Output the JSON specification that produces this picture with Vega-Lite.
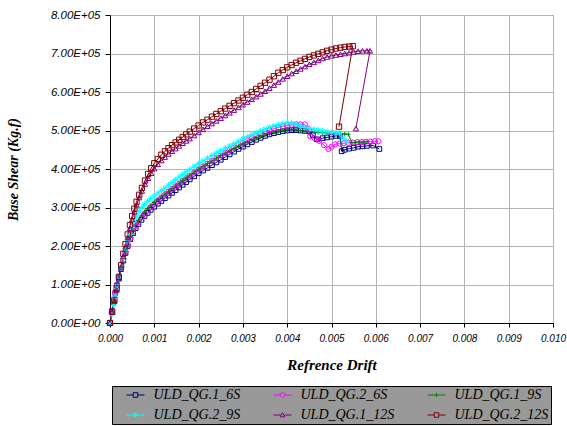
{
"$schema": "https://vega.github.io/schema/vega-lite/v6.json",
"width": 443, "height": 308,
"autosize": {"type": "none"},
"padding": {"left": 110, "top": 15, "right": 14, "bottom": 103},
"background": "white",
"config": {"view": {"stroke": "#808080", "strokeWidth": 1}},
"data": {"values": [
{"s":"ULD_QG.1_6S","d":0,"v":0},{"s":"ULD_QG.1_6S","d":0.00004,"v":28000},{"s":"ULD_QG.1_6S","d":0.00008,"v":55000},{"s":"ULD_QG.1_6S","d":0.00012,"v":78000},{"s":"ULD_QG.1_6S","d":0.00016,"v":98000},{"s":"ULD_QG.1_6S","d":0.0002,"v":116000},{"s":"ULD_QG.1_6S","d":0.00025,"v":140000},{"s":"ULD_QG.1_6S","d":0.0003,"v":162000},{"s":"ULD_QG.1_6S","d":0.00035,"v":182000},{"s":"ULD_QG.1_6S","d":0.0004,"v":200000},{"s":"ULD_QG.1_6S","d":0.00046,"v":218000},{"s":"ULD_QG.1_6S","d":0.00052,"v":233000},{"s":"ULD_QG.1_6S","d":0.00058,"v":246000},{"s":"ULD_QG.1_6S","d":0.00064,"v":257000},{"s":"ULD_QG.1_6S","d":0.00071,"v":268000},{"s":"ULD_QG.1_6S","d":0.00078,"v":278000},{"s":"ULD_QG.1_6S","d":0.00085,"v":286000},{"s":"ULD_QG.1_6S","d":0.00092,"v":294000},{"s":"ULD_QG.1_6S","d":0.001,"v":302000},{"s":"ULD_QG.1_6S","d":0.00108,"v":310000},{"s":"ULD_QG.1_6S","d":0.00116,"v":317000},{"s":"ULD_QG.1_6S","d":0.00124,"v":324000},{"s":"ULD_QG.1_6S","d":0.00132,"v":331000},{"s":"ULD_QG.1_6S","d":0.0014,"v":338000},{"s":"ULD_QG.1_6S","d":0.00148,"v":345000},{"s":"ULD_QG.1_6S","d":0.00156,"v":352000},{"s":"ULD_QG.1_6S","d":0.00164,"v":359000},{"s":"ULD_QG.1_6S","d":0.00172,"v":366000},{"s":"ULD_QG.1_6S","d":0.0018,"v":373000},{"s":"ULD_QG.1_6S","d":0.0019,"v":381000},{"s":"ULD_QG.1_6S","d":0.002,"v":389000},{"s":"ULD_QG.1_6S","d":0.0021,"v":396000},{"s":"ULD_QG.1_6S","d":0.0022,"v":403000},{"s":"ULD_QG.1_6S","d":0.0023,"v":410000},{"s":"ULD_QG.1_6S","d":0.0024,"v":417000},{"s":"ULD_QG.1_6S","d":0.0025,"v":424000},{"s":"ULD_QG.1_6S","d":0.0026,"v":431000},{"s":"ULD_QG.1_6S","d":0.0027,"v":438000},{"s":"ULD_QG.1_6S","d":0.0028,"v":445000},{"s":"ULD_QG.1_6S","d":0.0029,"v":452000},{"s":"ULD_QG.1_6S","d":0.003,"v":458000},{"s":"ULD_QG.1_6S","d":0.0031,"v":464000},{"s":"ULD_QG.1_6S","d":0.0032,"v":470000},{"s":"ULD_QG.1_6S","d":0.0033,"v":476000},{"s":"ULD_QG.1_6S","d":0.0034,"v":481000},{"s":"ULD_QG.1_6S","d":0.0035,"v":486000},{"s":"ULD_QG.1_6S","d":0.0036,"v":490000},{"s":"ULD_QG.1_6S","d":0.0037,"v":493000},{"s":"ULD_QG.1_6S","d":0.0038,"v":496000},{"s":"ULD_QG.1_6S","d":0.0039,"v":498000},{"s":"ULD_QG.1_6S","d":0.004,"v":500000},{"s":"ULD_QG.1_6S","d":0.0041,"v":501000},{"s":"ULD_QG.1_6S","d":0.0042,"v":501000},{"s":"ULD_QG.1_6S","d":0.0043,"v":500000},{"s":"ULD_QG.1_6S","d":0.0044,"v":499000},{"s":"ULD_QG.1_6S","d":0.0045,"v":498000},{"s":"ULD_QG.1_6S","d":0.00458,"v":488000},{"s":"ULD_QG.1_6S","d":0.00467,"v":477000},{"s":"ULD_QG.1_6S","d":0.0048,"v":480000},{"s":"ULD_QG.1_6S","d":0.0049,"v":482000},{"s":"ULD_QG.1_6S","d":0.005,"v":484000},{"s":"ULD_QG.1_6S","d":0.0051,"v":486000},{"s":"ULD_QG.1_6S","d":0.00519,"v":486000},{"s":"ULD_QG.1_6S","d":0.00523,"v":446000},{"s":"ULD_QG.1_6S","d":0.0053,"v":450000},{"s":"ULD_QG.1_6S","d":0.0054,"v":453000},{"s":"ULD_QG.1_6S","d":0.0055,"v":455000},{"s":"ULD_QG.1_6S","d":0.0056,"v":458000},{"s":"ULD_QG.1_6S","d":0.0057,"v":459000},{"s":"ULD_QG.1_6S","d":0.0058,"v":460000},{"s":"ULD_QG.1_6S","d":0.00594,"v":461000},{"s":"ULD_QG.1_6S","d":0.00608,"v":452000},
{"s":"ULD_QG.2_6S","d":0,"v":0},{"s":"ULD_QG.2_6S","d":0.00004,"v":27000},{"s":"ULD_QG.2_6S","d":0.00008,"v":56000},{"s":"ULD_QG.2_6S","d":0.00012,"v":80000},{"s":"ULD_QG.2_6S","d":0.00016,"v":100000},{"s":"ULD_QG.2_6S","d":0.0002,"v":119000},{"s":"ULD_QG.2_6S","d":0.00025,"v":143000},{"s":"ULD_QG.2_6S","d":0.0003,"v":165000},{"s":"ULD_QG.2_6S","d":0.00035,"v":185000},{"s":"ULD_QG.2_6S","d":0.0004,"v":203000},{"s":"ULD_QG.2_6S","d":0.00046,"v":221000},{"s":"ULD_QG.2_6S","d":0.00052,"v":237000},{"s":"ULD_QG.2_6S","d":0.00058,"v":250000},{"s":"ULD_QG.2_6S","d":0.00064,"v":262000},{"s":"ULD_QG.2_6S","d":0.00071,"v":274000},{"s":"ULD_QG.2_6S","d":0.00078,"v":284000},{"s":"ULD_QG.2_6S","d":0.00085,"v":293000},{"s":"ULD_QG.2_6S","d":0.00092,"v":301000},{"s":"ULD_QG.2_6S","d":0.001,"v":310000},{"s":"ULD_QG.2_6S","d":0.00108,"v":318000},{"s":"ULD_QG.2_6S","d":0.00116,"v":326000},{"s":"ULD_QG.2_6S","d":0.00124,"v":334000},{"s":"ULD_QG.2_6S","d":0.00132,"v":341000},{"s":"ULD_QG.2_6S","d":0.0014,"v":348000},{"s":"ULD_QG.2_6S","d":0.00148,"v":355000},{"s":"ULD_QG.2_6S","d":0.00156,"v":362000},{"s":"ULD_QG.2_6S","d":0.00164,"v":369000},{"s":"ULD_QG.2_6S","d":0.00172,"v":376000},{"s":"ULD_QG.2_6S","d":0.0018,"v":383000},{"s":"ULD_QG.2_6S","d":0.0019,"v":391000},{"s":"ULD_QG.2_6S","d":0.002,"v":399000},{"s":"ULD_QG.2_6S","d":0.0021,"v":407000},{"s":"ULD_QG.2_6S","d":0.0022,"v":414000},{"s":"ULD_QG.2_6S","d":0.0023,"v":421000},{"s":"ULD_QG.2_6S","d":0.0024,"v":428000},{"s":"ULD_QG.2_6S","d":0.0025,"v":435000},{"s":"ULD_QG.2_6S","d":0.0026,"v":442000},{"s":"ULD_QG.2_6S","d":0.0027,"v":449000},{"s":"ULD_QG.2_6S","d":0.0028,"v":456000},{"s":"ULD_QG.2_6S","d":0.0029,"v":462000},{"s":"ULD_QG.2_6S","d":0.003,"v":468000},{"s":"ULD_QG.2_6S","d":0.0031,"v":474000},{"s":"ULD_QG.2_6S","d":0.0032,"v":480000},{"s":"ULD_QG.2_6S","d":0.0033,"v":486000},{"s":"ULD_QG.2_6S","d":0.0034,"v":492000},{"s":"ULD_QG.2_6S","d":0.0035,"v":497000},{"s":"ULD_QG.2_6S","d":0.0036,"v":501000},{"s":"ULD_QG.2_6S","d":0.0037,"v":505000},{"s":"ULD_QG.2_6S","d":0.0038,"v":508000},{"s":"ULD_QG.2_6S","d":0.0039,"v":511000},{"s":"ULD_QG.2_6S","d":0.004,"v":513000},{"s":"ULD_QG.2_6S","d":0.0041,"v":515000},{"s":"ULD_QG.2_6S","d":0.0042,"v":516000},{"s":"ULD_QG.2_6S","d":0.0043,"v":516000},{"s":"ULD_QG.2_6S","d":0.0044,"v":516000},{"s":"ULD_QG.2_6S","d":0.00447,"v":505000},{"s":"ULD_QG.2_6S","d":0.00452,"v":485000},{"s":"ULD_QG.2_6S","d":0.00462,"v":480000},{"s":"ULD_QG.2_6S","d":0.00472,"v":473000},{"s":"ULD_QG.2_6S","d":0.00483,"v":462000},{"s":"ULD_QG.2_6S","d":0.00493,"v":452000},{"s":"ULD_QG.2_6S","d":0.005,"v":458000},{"s":"ULD_QG.2_6S","d":0.00508,"v":464000},{"s":"ULD_QG.2_6S","d":0.00518,"v":466000},{"s":"ULD_QG.2_6S","d":0.00528,"v":467000},{"s":"ULD_QG.2_6S","d":0.00538,"v":468000},{"s":"ULD_QG.2_6S","d":0.00548,"v":469000},{"s":"ULD_QG.2_6S","d":0.00558,"v":470000},{"s":"ULD_QG.2_6S","d":0.00568,"v":470000},{"s":"ULD_QG.2_6S","d":0.00578,"v":471000},{"s":"ULD_QG.2_6S","d":0.00588,"v":471000},{"s":"ULD_QG.2_6S","d":0.00598,"v":472000},{"s":"ULD_QG.2_6S","d":0.00606,"v":472000},
{"s":"ULD_QG.1_9S","d":0,"v":0},{"s":"ULD_QG.1_9S","d":0.00004,"v":28000},{"s":"ULD_QG.1_9S","d":0.00008,"v":57000},{"s":"ULD_QG.1_9S","d":0.00012,"v":82000},{"s":"ULD_QG.1_9S","d":0.00016,"v":103000},{"s":"ULD_QG.1_9S","d":0.0002,"v":122000},{"s":"ULD_QG.1_9S","d":0.00025,"v":146000},{"s":"ULD_QG.1_9S","d":0.0003,"v":168000},{"s":"ULD_QG.1_9S","d":0.00035,"v":188000},{"s":"ULD_QG.1_9S","d":0.0004,"v":207000},{"s":"ULD_QG.1_9S","d":0.00046,"v":225000},{"s":"ULD_QG.1_9S","d":0.00052,"v":241000},{"s":"ULD_QG.1_9S","d":0.00058,"v":254000},{"s":"ULD_QG.1_9S","d":0.00064,"v":266000},{"s":"ULD_QG.1_9S","d":0.00071,"v":278000},{"s":"ULD_QG.1_9S","d":0.00078,"v":288000},{"s":"ULD_QG.1_9S","d":0.00085,"v":297000},{"s":"ULD_QG.1_9S","d":0.00092,"v":305000},{"s":"ULD_QG.1_9S","d":0.001,"v":313000},{"s":"ULD_QG.1_9S","d":0.00108,"v":321000},{"s":"ULD_QG.1_9S","d":0.00116,"v":328000},{"s":"ULD_QG.1_9S","d":0.00124,"v":335000},{"s":"ULD_QG.1_9S","d":0.00132,"v":342000},{"s":"ULD_QG.1_9S","d":0.0014,"v":349000},{"s":"ULD_QG.1_9S","d":0.00148,"v":356000},{"s":"ULD_QG.1_9S","d":0.00156,"v":363000},{"s":"ULD_QG.1_9S","d":0.00164,"v":370000},{"s":"ULD_QG.1_9S","d":0.00172,"v":377000},{"s":"ULD_QG.1_9S","d":0.0018,"v":384000},{"s":"ULD_QG.1_9S","d":0.0019,"v":392000},{"s":"ULD_QG.1_9S","d":0.002,"v":400000},{"s":"ULD_QG.1_9S","d":0.0021,"v":407000},{"s":"ULD_QG.1_9S","d":0.0022,"v":414000},{"s":"ULD_QG.1_9S","d":0.0023,"v":421000},{"s":"ULD_QG.1_9S","d":0.0024,"v":428000},{"s":"ULD_QG.1_9S","d":0.0025,"v":435000},{"s":"ULD_QG.1_9S","d":0.0026,"v":441000},{"s":"ULD_QG.1_9S","d":0.0027,"v":447000},{"s":"ULD_QG.1_9S","d":0.0028,"v":453000},{"s":"ULD_QG.1_9S","d":0.0029,"v":459000},{"s":"ULD_QG.1_9S","d":0.003,"v":465000},{"s":"ULD_QG.1_9S","d":0.0031,"v":470000},{"s":"ULD_QG.1_9S","d":0.0032,"v":475000},{"s":"ULD_QG.1_9S","d":0.0033,"v":480000},{"s":"ULD_QG.1_9S","d":0.0034,"v":484000},{"s":"ULD_QG.1_9S","d":0.0035,"v":488000},{"s":"ULD_QG.1_9S","d":0.0036,"v":492000},{"s":"ULD_QG.1_9S","d":0.0037,"v":495000},{"s":"ULD_QG.1_9S","d":0.0038,"v":498000},{"s":"ULD_QG.1_9S","d":0.0039,"v":500000},{"s":"ULD_QG.1_9S","d":0.004,"v":502000},{"s":"ULD_QG.1_9S","d":0.0041,"v":503000},{"s":"ULD_QG.1_9S","d":0.0042,"v":502000},{"s":"ULD_QG.1_9S","d":0.0043,"v":500000},{"s":"ULD_QG.1_9S","d":0.0044,"v":498000},{"s":"ULD_QG.1_9S","d":0.0045,"v":497000},{"s":"ULD_QG.1_9S","d":0.0046,"v":496000},{"s":"ULD_QG.1_9S","d":0.0047,"v":495000},{"s":"ULD_QG.1_9S","d":0.0048,"v":494000},{"s":"ULD_QG.1_9S","d":0.0049,"v":494000},{"s":"ULD_QG.1_9S","d":0.005,"v":493000},{"s":"ULD_QG.1_9S","d":0.0051,"v":492000},{"s":"ULD_QG.1_9S","d":0.0052,"v":492000},{"s":"ULD_QG.1_9S","d":0.0053,"v":491000},{"s":"ULD_QG.1_9S","d":0.00538,"v":490000},{"s":"ULD_QG.1_9S","d":0.00546,"v":468000},{"s":"ULD_QG.1_9S","d":0.00554,"v":469000},{"s":"ULD_QG.1_9S","d":0.00562,"v":470000},{"s":"ULD_QG.1_9S","d":0.00572,"v":470000},{"s":"ULD_QG.1_9S","d":0.0058,"v":471000},
{"s":"ULD_QG.2_9S","d":0,"v":0},{"s":"ULD_QG.2_9S","d":0.00004,"v":22000},{"s":"ULD_QG.2_9S","d":0.00008,"v":46000},{"s":"ULD_QG.2_9S","d":0.00012,"v":70000},{"s":"ULD_QG.2_9S","d":0.00016,"v":93000},{"s":"ULD_QG.2_9S","d":0.0002,"v":115000},{"s":"ULD_QG.2_9S","d":0.00025,"v":142000},{"s":"ULD_QG.2_9S","d":0.0003,"v":167000},{"s":"ULD_QG.2_9S","d":0.00035,"v":190000},{"s":"ULD_QG.2_9S","d":0.0004,"v":211000},{"s":"ULD_QG.2_9S","d":0.00045,"v":230000},{"s":"ULD_QG.2_9S","d":0.0005,"v":248000},{"s":"ULD_QG.2_9S","d":0.00055,"v":264000},{"s":"ULD_QG.2_9S","d":0.0006,"v":278000},{"s":"ULD_QG.2_9S","d":0.00066,"v":290000},{"s":"ULD_QG.2_9S","d":0.00072,"v":300000},{"s":"ULD_QG.2_9S","d":0.00078,"v":308000},{"s":"ULD_QG.2_9S","d":0.00085,"v":316000},{"s":"ULD_QG.2_9S","d":0.00092,"v":323000},{"s":"ULD_QG.2_9S","d":0.001,"v":330000},{"s":"ULD_QG.2_9S","d":0.00108,"v":337000},{"s":"ULD_QG.2_9S","d":0.00116,"v":344000},{"s":"ULD_QG.2_9S","d":0.00124,"v":351000},{"s":"ULD_QG.2_9S","d":0.00132,"v":358000},{"s":"ULD_QG.2_9S","d":0.0014,"v":365000},{"s":"ULD_QG.2_9S","d":0.00148,"v":372000},{"s":"ULD_QG.2_9S","d":0.00156,"v":379000},{"s":"ULD_QG.2_9S","d":0.00164,"v":386000},{"s":"ULD_QG.2_9S","d":0.00172,"v":393000},{"s":"ULD_QG.2_9S","d":0.0018,"v":399000},{"s":"ULD_QG.2_9S","d":0.0019,"v":407000},{"s":"ULD_QG.2_9S","d":0.002,"v":414000},{"s":"ULD_QG.2_9S","d":0.0021,"v":421000},{"s":"ULD_QG.2_9S","d":0.0022,"v":428000},{"s":"ULD_QG.2_9S","d":0.0023,"v":435000},{"s":"ULD_QG.2_9S","d":0.0024,"v":442000},{"s":"ULD_QG.2_9S","d":0.0025,"v":448000},{"s":"ULD_QG.2_9S","d":0.0026,"v":454000},{"s":"ULD_QG.2_9S","d":0.0027,"v":460000},{"s":"ULD_QG.2_9S","d":0.0028,"v":466000},{"s":"ULD_QG.2_9S","d":0.0029,"v":472000},{"s":"ULD_QG.2_9S","d":0.003,"v":478000},{"s":"ULD_QG.2_9S","d":0.0031,"v":484000},{"s":"ULD_QG.2_9S","d":0.0032,"v":489000},{"s":"ULD_QG.2_9S","d":0.0033,"v":494000},{"s":"ULD_QG.2_9S","d":0.0034,"v":499000},{"s":"ULD_QG.2_9S","d":0.0035,"v":504000},{"s":"ULD_QG.2_9S","d":0.0036,"v":508000},{"s":"ULD_QG.2_9S","d":0.0037,"v":512000},{"s":"ULD_QG.2_9S","d":0.0038,"v":515000},{"s":"ULD_QG.2_9S","d":0.0039,"v":518000},{"s":"ULD_QG.2_9S","d":0.004,"v":520000},{"s":"ULD_QG.2_9S","d":0.0041,"v":519000},{"s":"ULD_QG.2_9S","d":0.0042,"v":516000},{"s":"ULD_QG.2_9S","d":0.0043,"v":512000},{"s":"ULD_QG.2_9S","d":0.0044,"v":508000},{"s":"ULD_QG.2_9S","d":0.0045,"v":505000},{"s":"ULD_QG.2_9S","d":0.0046,"v":503000},{"s":"ULD_QG.2_9S","d":0.0047,"v":501000},{"s":"ULD_QG.2_9S","d":0.0048,"v":499000},{"s":"ULD_QG.2_9S","d":0.0049,"v":497000},{"s":"ULD_QG.2_9S","d":0.005,"v":495000},{"s":"ULD_QG.2_9S","d":0.0051,"v":494000},{"s":"ULD_QG.2_9S","d":0.00518,"v":493000},{"s":"ULD_QG.2_9S","d":0.00526,"v":480000},{"s":"ULD_QG.2_9S","d":0.00534,"v":472000},
{"s":"ULD_QG.1_12S","d":0,"v":0},{"s":"ULD_QG.1_12S","d":0.00005,"v":28000},{"s":"ULD_QG.1_12S","d":0.0001,"v":57000},{"s":"ULD_QG.1_12S","d":0.00015,"v":86000},{"s":"ULD_QG.1_12S","d":0.0002,"v":115000},{"s":"ULD_QG.1_12S","d":0.00025,"v":144000},{"s":"ULD_QG.1_12S","d":0.0003,"v":173000},{"s":"ULD_QG.1_12S","d":0.00035,"v":198000},{"s":"ULD_QG.1_12S","d":0.0004,"v":222000},{"s":"ULD_QG.1_12S","d":0.00045,"v":246000},{"s":"ULD_QG.1_12S","d":0.0005,"v":269000},{"s":"ULD_QG.1_12S","d":0.00055,"v":289000},{"s":"ULD_QG.1_12S","d":0.0006,"v":307000},{"s":"ULD_QG.1_12S","d":0.00066,"v":326000},{"s":"ULD_QG.1_12S","d":0.00072,"v":343000},{"s":"ULD_QG.1_12S","d":0.00079,"v":361000},{"s":"ULD_QG.1_12S","d":0.00086,"v":376000},{"s":"ULD_QG.1_12S","d":0.00093,"v":389000},{"s":"ULD_QG.1_12S","d":0.001,"v":401000},{"s":"ULD_QG.1_12S","d":0.00108,"v":412000},{"s":"ULD_QG.1_12S","d":0.00116,"v":422000},{"s":"ULD_QG.1_12S","d":0.00124,"v":431000},{"s":"ULD_QG.1_12S","d":0.00132,"v":439000},{"s":"ULD_QG.1_12S","d":0.0014,"v":446000},{"s":"ULD_QG.1_12S","d":0.00148,"v":453000},{"s":"ULD_QG.1_12S","d":0.00156,"v":460000},{"s":"ULD_QG.1_12S","d":0.00164,"v":467000},{"s":"ULD_QG.1_12S","d":0.00172,"v":473000},{"s":"ULD_QG.1_12S","d":0.0018,"v":479000},{"s":"ULD_QG.1_12S","d":0.0019,"v":487000},{"s":"ULD_QG.1_12S","d":0.002,"v":495000},{"s":"ULD_QG.1_12S","d":0.0021,"v":503000},{"s":"ULD_QG.1_12S","d":0.0022,"v":511000},{"s":"ULD_QG.1_12S","d":0.0023,"v":518000},{"s":"ULD_QG.1_12S","d":0.0024,"v":525000},{"s":"ULD_QG.1_12S","d":0.0025,"v":532000},{"s":"ULD_QG.1_12S","d":0.0026,"v":539000},{"s":"ULD_QG.1_12S","d":0.0027,"v":546000},{"s":"ULD_QG.1_12S","d":0.0028,"v":553000},{"s":"ULD_QG.1_12S","d":0.0029,"v":560000},{"s":"ULD_QG.1_12S","d":0.003,"v":567000},{"s":"ULD_QG.1_12S","d":0.0031,"v":574000},{"s":"ULD_QG.1_12S","d":0.0032,"v":581000},{"s":"ULD_QG.1_12S","d":0.0033,"v":588000},{"s":"ULD_QG.1_12S","d":0.0034,"v":595000},{"s":"ULD_QG.1_12S","d":0.0035,"v":602000},{"s":"ULD_QG.1_12S","d":0.0036,"v":610000},{"s":"ULD_QG.1_12S","d":0.0037,"v":618000},{"s":"ULD_QG.1_12S","d":0.0038,"v":626000},{"s":"ULD_QG.1_12S","d":0.0039,"v":634000},{"s":"ULD_QG.1_12S","d":0.004,"v":641000},{"s":"ULD_QG.1_12S","d":0.0041,"v":648000},{"s":"ULD_QG.1_12S","d":0.0042,"v":654000},{"s":"ULD_QG.1_12S","d":0.0043,"v":660000},{"s":"ULD_QG.1_12S","d":0.0044,"v":666000},{"s":"ULD_QG.1_12S","d":0.0045,"v":672000},{"s":"ULD_QG.1_12S","d":0.0046,"v":677000},{"s":"ULD_QG.1_12S","d":0.0047,"v":682000},{"s":"ULD_QG.1_12S","d":0.0048,"v":687000},{"s":"ULD_QG.1_12S","d":0.0049,"v":691000},{"s":"ULD_QG.1_12S","d":0.005,"v":694000},{"s":"ULD_QG.1_12S","d":0.0051,"v":696000},{"s":"ULD_QG.1_12S","d":0.0052,"v":698000},{"s":"ULD_QG.1_12S","d":0.0053,"v":700000},{"s":"ULD_QG.1_12S","d":0.0054,"v":702000},{"s":"ULD_QG.1_12S","d":0.0055,"v":704000},{"s":"ULD_QG.1_12S","d":0.0056,"v":706000},{"s":"ULD_QG.1_12S","d":0.0057,"v":707000},{"s":"ULD_QG.1_12S","d":0.0058,"v":707000},{"s":"ULD_QG.1_12S","d":0.00587,"v":707000},{"s":"ULD_QG.1_12S","d":0.00555,"v":505000},
{"s":"ULD_QG.2_12S","d":0,"v":0},{"s":"ULD_QG.2_12S","d":0.00005,"v":30000},{"s":"ULD_QG.2_12S","d":0.0001,"v":60000},{"s":"ULD_QG.2_12S","d":0.00015,"v":90000},{"s":"ULD_QG.2_12S","d":0.0002,"v":120000},{"s":"ULD_QG.2_12S","d":0.00025,"v":150000},{"s":"ULD_QG.2_12S","d":0.0003,"v":180000},{"s":"ULD_QG.2_12S","d":0.00035,"v":205000},{"s":"ULD_QG.2_12S","d":0.0004,"v":230000},{"s":"ULD_QG.2_12S","d":0.00045,"v":254000},{"s":"ULD_QG.2_12S","d":0.0005,"v":278000},{"s":"ULD_QG.2_12S","d":0.00055,"v":297000},{"s":"ULD_QG.2_12S","d":0.0006,"v":315000},{"s":"ULD_QG.2_12S","d":0.00066,"v":333000},{"s":"ULD_QG.2_12S","d":0.00072,"v":351000},{"s":"ULD_QG.2_12S","d":0.00079,"v":370000},{"s":"ULD_QG.2_12S","d":0.00086,"v":387000},{"s":"ULD_QG.2_12S","d":0.00093,"v":402000},{"s":"ULD_QG.2_12S","d":0.001,"v":415000},{"s":"ULD_QG.2_12S","d":0.00108,"v":426000},{"s":"ULD_QG.2_12S","d":0.00116,"v":437000},{"s":"ULD_QG.2_12S","d":0.00124,"v":446000},{"s":"ULD_QG.2_12S","d":0.00132,"v":454000},{"s":"ULD_QG.2_12S","d":0.0014,"v":462000},{"s":"ULD_QG.2_12S","d":0.00148,"v":469000},{"s":"ULD_QG.2_12S","d":0.00156,"v":476000},{"s":"ULD_QG.2_12S","d":0.00164,"v":483000},{"s":"ULD_QG.2_12S","d":0.00172,"v":490000},{"s":"ULD_QG.2_12S","d":0.0018,"v":497000},{"s":"ULD_QG.2_12S","d":0.0019,"v":505000},{"s":"ULD_QG.2_12S","d":0.002,"v":513000},{"s":"ULD_QG.2_12S","d":0.0021,"v":521000},{"s":"ULD_QG.2_12S","d":0.0022,"v":528000},{"s":"ULD_QG.2_12S","d":0.0023,"v":536000},{"s":"ULD_QG.2_12S","d":0.0024,"v":543000},{"s":"ULD_QG.2_12S","d":0.0025,"v":550000},{"s":"ULD_QG.2_12S","d":0.0026,"v":557000},{"s":"ULD_QG.2_12S","d":0.0027,"v":564000},{"s":"ULD_QG.2_12S","d":0.0028,"v":571000},{"s":"ULD_QG.2_12S","d":0.0029,"v":578000},{"s":"ULD_QG.2_12S","d":0.003,"v":585000},{"s":"ULD_QG.2_12S","d":0.0031,"v":593000},{"s":"ULD_QG.2_12S","d":0.0032,"v":600000},{"s":"ULD_QG.2_12S","d":0.0033,"v":608000},{"s":"ULD_QG.2_12S","d":0.0034,"v":616000},{"s":"ULD_QG.2_12S","d":0.0035,"v":624000},{"s":"ULD_QG.2_12S","d":0.0036,"v":632000},{"s":"ULD_QG.2_12S","d":0.0037,"v":641000},{"s":"ULD_QG.2_12S","d":0.0038,"v":650000},{"s":"ULD_QG.2_12S","d":0.0039,"v":657000},{"s":"ULD_QG.2_12S","d":0.004,"v":664000},{"s":"ULD_QG.2_12S","d":0.0041,"v":670000},{"s":"ULD_QG.2_12S","d":0.0042,"v":676000},{"s":"ULD_QG.2_12S","d":0.0043,"v":681000},{"s":"ULD_QG.2_12S","d":0.0044,"v":686000},{"s":"ULD_QG.2_12S","d":0.0045,"v":691000},{"s":"ULD_QG.2_12S","d":0.0046,"v":695000},{"s":"ULD_QG.2_12S","d":0.0047,"v":699000},{"s":"ULD_QG.2_12S","d":0.0048,"v":703000},{"s":"ULD_QG.2_12S","d":0.0049,"v":707000},{"s":"ULD_QG.2_12S","d":0.005,"v":710000},{"s":"ULD_QG.2_12S","d":0.0051,"v":713000},{"s":"ULD_QG.2_12S","d":0.0052,"v":715000},{"s":"ULD_QG.2_12S","d":0.0053,"v":717000},{"s":"ULD_QG.2_12S","d":0.0054,"v":718000},{"s":"ULD_QG.2_12S","d":0.00548,"v":719000},{"s":"ULD_QG.2_12S","d":0.00517,"v":510000}
]},
"encoding": {
  "x": {"field": "d", "type": "quantitative", "scale": {"domain": [0, 0.01], "nice": false, "zero": false},
    "axis": {"title": "Refrence Drift", "values": [0,0.001,0.002,0.003,0.004,0.005,0.006,0.007,0.008,0.009,0.01], "format": ".3f",
      "labelFont": "Liberation Sans", "labelFontStyle": "italic", "labelFontSize": 10, "labelColor": "black", "labelPadding": 6, "labelFlush": false, "labelOverlap": false,
      "tickColor": "black", "tickSize": 4, "domainColor": "black", "domainWidth": 1, "gridColor": "#b4b4b4", "gridWidth": 1,
      "titleFont": "Liberation Serif", "titleFontStyle": "italic", "titleFontWeight": "bold", "titleFontSize": 15, "titleColor": "black", "titlePadding": 14}},
  "y": {"field": "v", "type": "quantitative", "scale": {"domain": [0, 800000], "nice": false},
    "axis": {"title": "Base Shear (Kg.f)", "values": [0,100000,200000,300000,400000,500000,600000,700000,800000],
      "labelExpr": "datum.value == 0 ? '0.00E+00' : format(datum.value / 100000, '.2f') + 'E+05'",
      "labelFont": "Liberation Sans", "labelFontStyle": "italic", "labelFontSize": 11.5, "labelColor": "black", "labelPadding": 5, "labelFlush": false, "labelOverlap": false,
      "tickColor": "black", "tickSize": 5, "domainColor": "black", "domainWidth": 1, "gridColor": "#b4b4b4", "gridWidth": 1,
      "titleFont": "Liberation Serif", "titleFontStyle": "italic", "titleFontWeight": "bold", "titleFontSize": 14, "titleColor": "black", "titlePadding": 30}}
},
"layer": [
  {"mark": {"type": "line", "strokeWidth": 1},
   "encoding": {
     "stroke": {"field": "s", "type": "nominal", "legend": null,
       "scale": {"range": ["#800080","#000080","#008000","#800000","#ff00ff","#00ffff"]}},
     "order": {"value": null}}},
  {"transform": [{"filter": {"field": "s", "equal": "ULD_QG.1_6S"}}],
   "mark": {"type": "point", "shape": "square", "filled": false, "color": "#000080", "strokeWidth": 1, "size": 22, "opacity": 1}},
  {"transform": [{"filter": {"field": "s", "equal": "ULD_QG.2_6S"}}],
   "mark": {"type": "point", "shape": "circle", "filled": false, "color": "#ff00ff", "strokeWidth": 1, "size": 26, "opacity": 1}},
  {"transform": [{"filter": {"field": "s", "equal": "ULD_QG.1_9S"}}],
   "mark": {"type": "point", "shape": "M-1,0H1M0,-1V1", "filled": false, "color": "#008000", "strokeWidth": 1, "size": 20, "opacity": 1}},
  {"transform": [{"filter": {"field": "s", "equal": "ULD_QG.2_9S"}}],
   "mark": {"type": "point", "shape": "M-1,0H1M0,-1V1M-0.7,-0.7L0.7,0.7M-0.7,0.7L0.7,-0.7", "filled": false, "color": "#00ffff", "strokeWidth": 1, "size": 36, "opacity": 1}},
  {"transform": [{"filter": {"field": "s", "equal": "ULD_QG.1_12S"}}],
   "mark": {"type": "point", "shape": "triangle-up", "filled": false, "color": "#800080", "strokeWidth": 1, "size": 28, "opacity": 1}},
  {"transform": [{"filter": {"field": "s", "equal": "ULD_QG.2_12S"}}],
   "mark": {"type": "point", "shape": "square", "filled": false, "color": "#800000", "strokeWidth": 1, "size": 28, "opacity": 1}},
  {"transform": [{"filter": {"field": "d", "lt": 0}}],
   "mark": {"type": "point", "filled": false, "strokeWidth": 1},
   "encoding": {
     "color": {"field": "s", "type": "nominal",
       "scale": {"domain": ["ULD_QG.1_6S","ULD_QG.2_6S","ULD_QG.1_9S","ULD_QG.2_9S","ULD_QG.1_12S","ULD_QG.2_12S"],
                 "range": ["#000080","#ff00ff","#008000","#00ffff","#800080","#800000"]},
       "legend": {"title": null, "orient": "none", "legendX": 2, "legendY": 371, "direction": "horizontal", "columns": 3,
         "fillColor": "#999999", "strokeColor": "black", "padding": 2, "columnPadding": 20, "rowPadding": 6,
         "symbolSize": 144, "symbolOffset": 14.5, "labelOffset": 11, "symbolStrokeWidth": 1, "symbolOpacity": 1,
         "labelFont": "Liberation Serif", "labelFontStyle": "italic", "labelFontSize": 14, "labelColor": "black", "labelLimit": 200}},
     "shape": {"field": "s", "type": "nominal",
       "scale": {"domain": ["ULD_QG.1_6S","ULD_QG.2_6S","ULD_QG.1_9S","ULD_QG.2_9S","ULD_QG.1_12S","ULD_QG.2_12S"],
                 "range": ["M-1.5,0H-0.38M0.38,0H1.5M-0.38,-0.38H0.38V0.38H-0.38Z",
                           "M-1.5,0H-0.38M0.38,0H1.5M-0.38,0A0.38,0.38 0 1,0 0.38,0A0.38,0.38 0 1,0 -0.38,0",
                           "M-1.5,0H1.5M0,-0.36V0.36",
                           "M-1.5,0H1.5M0,-0.43V0.43M-0.36,-0.28L0.36,0.28M-0.36,0.28L0.36,-0.28",
                           "M-1.5,0H-0.3M0.3,0H1.5M0,-0.4L0.4,0.3H-0.4Z",
                           "M-1.5,0H-0.38M0.38,0H1.5M-0.38,-0.38H0.38V0.38H-0.38Z"]},
       "legend": {"title": null, "orient": "none", "legendX": 2, "legendY": 371, "direction": "horizontal", "columns": 3,
         "fillColor": "#999999", "strokeColor": "black", "padding": 2, "columnPadding": 20, "rowPadding": 6,
         "symbolSize": 144, "symbolOffset": 14.5, "labelOffset": 11, "symbolStrokeWidth": 1, "symbolOpacity": 1,
         "labelFont": "Liberation Serif", "labelFontStyle": "italic", "labelFontSize": 14, "labelColor": "black", "labelLimit": 200}}}}
]
}
